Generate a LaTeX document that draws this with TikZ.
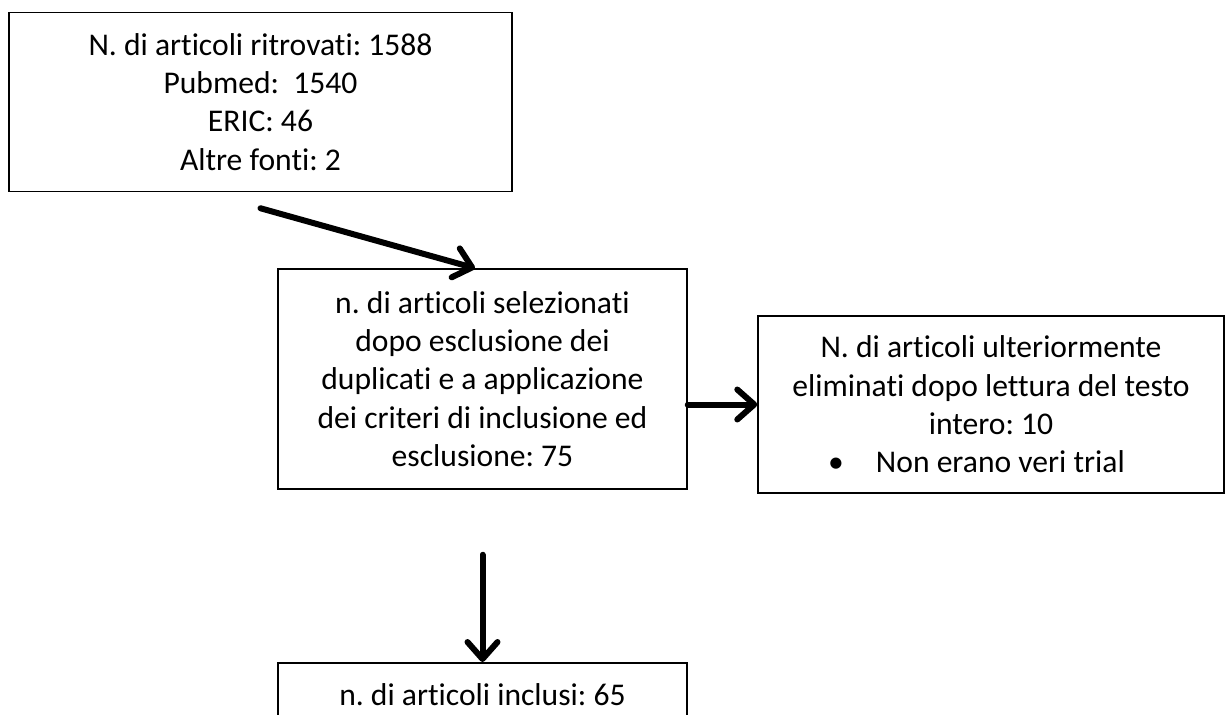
\documentclass[tikz,border=0pt]{standalone}
\usepackage{fontspec}
\setmainfont[Ligatures={NoCommon,NoContextual}]{Carlito}
\usetikzlibrary{arrows.meta}
\frenchspacing

\begin{document}
\begin{tikzpicture}[x=1pt,y=-1pt,
    box/.style={draw,line width=1.5pt,align=center,inner sep=0pt,
      font=\fontsize{31.6}{38.3}\selectfont},
    flow/.style={line width=6pt,line cap=round,line join=round,
      -{Straight Barb[length=17pt,width=30pt,line cap=round,line join=round]}}]
          \useasboundingbox (0,0) rectangle (1227,715);
          \node[box,minimum width=503pt,minimum height=179pt] (found) at (260.5,102)
            {N. di articoli ritrovati: 1588\\Pubmed:\ \ 1540\\ERIC: 46\\Altre fonti: 2};
          \node[box,minimum width=409pt,minimum height=220pt] (screened) at (482.5,379)
            {n. di articoli selezionati\\dopo esclusione dei\\duplicati e a applicazione\\dei criteri di inclusione ed\\esclusione: 75};
          \node[box,minimum width=466pt,minimum height=177pt] (fulltext) at (991,404.5)
            {N. di articoli ulteriormente\\eliminati dopo lettura del testo\\intero: 10\\
             \textbullet\hspace{32pt}Non erano veri trial\hspace*{29pt}};
          \begin{scope}
          \clip (0,0) rectangle (1227,715);
          \node[box,minimum width=409pt,text height=43pt,text depth=60pt,anchor=north] (included) at (482.5,662)
            {n. di articoli inclusi: 65};
          \end{scope}

          \coordinate (s1) at ([yshift=-16pt]found.south);
          \coordinate (s2) at ([yshift=-65pt]screened.south);
          \draw[flow] (s1) -- ([xshift=-7.5pt]screened.north);
          \draw[flow] (screened.east |- fulltext.west) -- (fulltext.west);
          \draw[flow] (s2) -- (included.north);
         \end{tikzpicture}
\end{document}
